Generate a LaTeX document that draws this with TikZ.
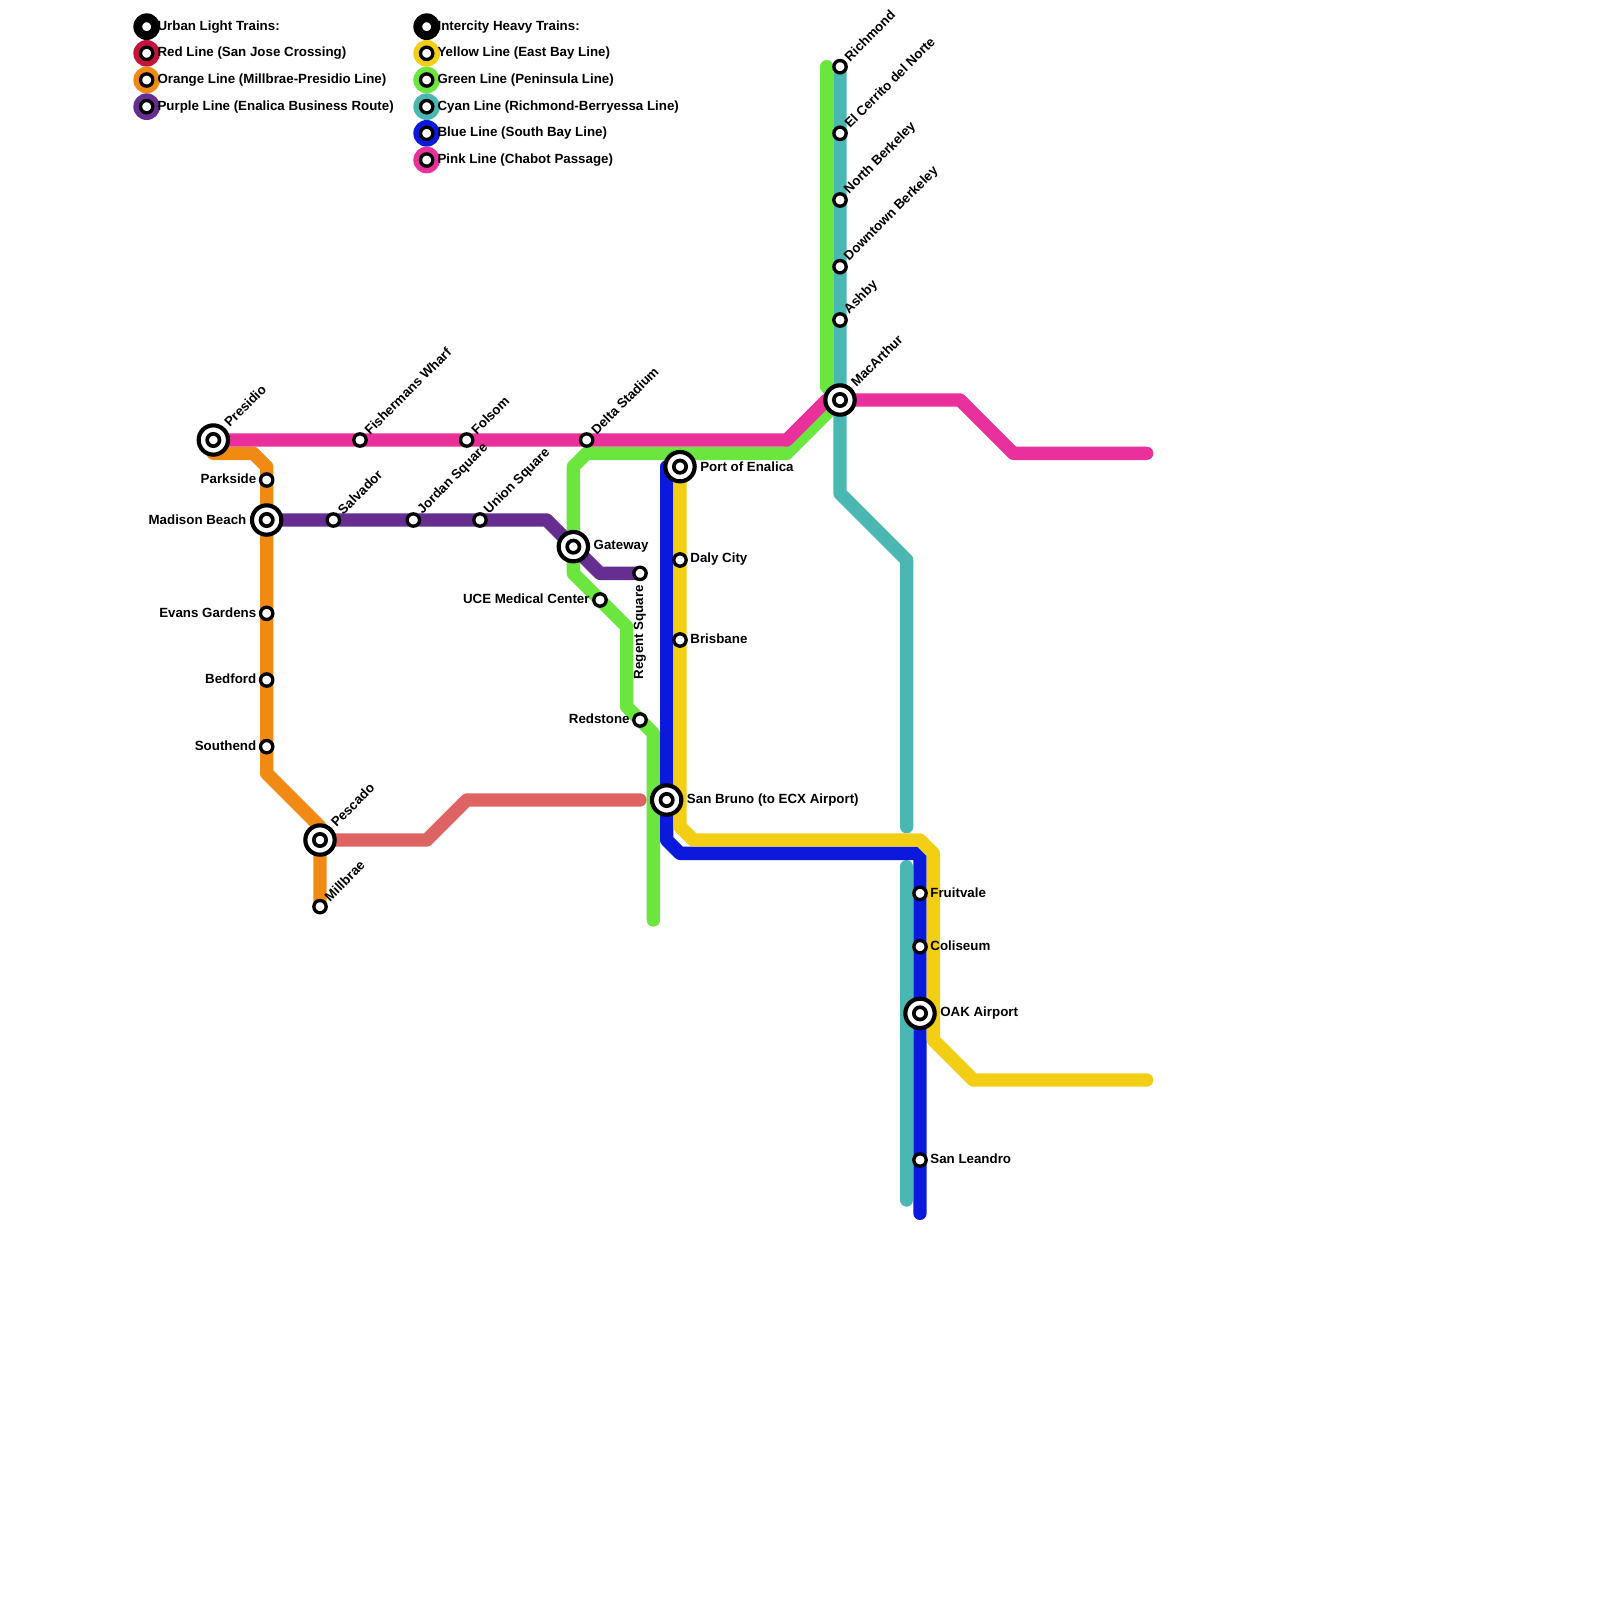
\documentclass[tikz,border=0pt]{standalone}
\usepackage{fontspec}
\setmainfont{Liberation Sans}
\definecolor{pinkline}{HTML}{E9309B}
\definecolor{greenline}{HTML}{6AE63F}
\definecolor{orangeline}{HTML}{F08A13}
\definecolor{purpleline}{HTML}{662E91}
\definecolor{yellowline}{HTML}{F2CE14}
\definecolor{cyanline}{HTML}{4BB7B3}
\definecolor{blueline}{HTML}{0A19DC}
\definecolor{salmonline}{HTML}{DE6464}
\definecolor{redline}{HTML}{C4143C}
\pgfdeclarelayer{lines}
\pgfsetlayers{lines,main}
\tikzset{
  metro/.style={line width=0.4cm,line cap=round,line join=round},
  stn/.style={circle,draw=black,fill=white,line width=0.1cm,minimum size=0.37cm,inner sep=0pt},
  hub/.style={circle,draw=black,fill=white,line width=0.125cm,minimum size=0.88cm,inner sep=0pt},
  hubin/.style={circle,draw=black,fill=white,line width=0.11cm,minimum size=0.37cm,inner sep=0pt},
  legdisc/.style={circle,minimum size=0.8cm,inner sep=0pt},
  lbtext/.style={font=\bfseries\fontsize{11.37}{13}\selectfont,inner sep=0pt,text=black},
  lbne/.style={lbtext,rotate=45,anchor=west,label distance=0pt,xshift=0.07cm,yshift=0.025cm},
  lbup/.style={lbtext,rotate=90,anchor=east,label distance=0pt,xshift=-0.11cm},
  txtne/.style={label={[lbne]45:#1}},
  txtup/.style={label={[lbup]-90:#1}},
  txtl/.style={label={[lbtext,label distance=0.07cm,yshift=0.03cm]180:#1}},
  txtr/.style={label={[lbtext,label distance=0.07cm,yshift=0.03cm]0:#1}},
  hubl/.style={label={[lbtext,label distance=0.10cm]180:#1}},
  hubr/.style={label={[lbtext,label distance=0.10cm]0:#1}},
  hubne/.style={label={[lbne,xshift=0.03cm,yshift=0.025cm]45:#1}}
}
\begin{document}
\begin{tikzpicture}[x=0.4cm,y=-0.4cm]
\useasboundingbox (0,0) rectangle (120,120);
\node[hub,hubne=Presidio] (presidio) at (16,33) {};
\node[hub,hubl=Madison Beach] (madison) at (20,39) {};
\node[hub,hubne=Pescado] (pescado) at (24,63) {};
\node[hub,hubr=Gateway] (gateway) at (43,41) {};
\node[hub,hubr=Port of Enalica] (enalica) at (51,35) {};
\node[hub,hubr=San Bruno (to ECX Airport)] (sanbruno) at (50,60) {};
\node[hub,hubne=MacArthur] (macarthur) at (63,30) {};
\node[hub,hubr=OAK Airport] (oak) at (69,76) {};
\foreach \n in {presidio,madison,pescado,gateway,enalica,sanbruno,macarthur,oak}
  \node[hubin] (\n-in) at (\n) {};
\node[stn,txtl=Parkside] (parkside) at (20,36) {};
\node[stn,txtl=Evans Gardens] (evans) at (20,46) {};
\node[stn,txtl=Bedford] (bedford) at (20,51) {};
\node[stn,txtl=Southend] (southend) at (20,56) {};
\node[stn,txtne=Millbrae] (millbrae) at (24,68) {};
\node[stn,txtne=Salvador] (salvador) at (25,39) {};
\node[stn,txtne=Fishermans Wharf] (fishermans) at (27,33) {};
\node[stn,txtne=Jordan Square] (jordan) at (31,39) {};
\node[stn,txtne=Folsom] (folsom) at (35,33) {};
\node[stn,txtne=Union Square] (union) at (36,39) {};
\node[stn,txtne=Delta Stadium] (delta) at (44,33) {};
\node[stn,txtup=Regent Square] (regent) at (48,43) {};
\node[stn,txtl=UCE Medical Center] (uce) at (45,45) {};
\node[stn,txtl=Redstone] (redstone) at (48,54) {};
\node[stn,txtr=Daly City] (daly) at (51,42) {};
\node[stn,txtr=Brisbane] (brisbane) at (51,48) {};
\node[stn,txtne=Richmond] (richmond) at (63,5) {};
\node[stn,txtne=El Cerrito del Norte] (cerrito) at (63,10) {};
\node[stn,txtne=North Berkeley] (northb) at (63,15) {};
\node[stn,txtne=Downtown Berkeley] (downtown) at (63,20) {};
\node[stn,txtne=Ashby] (ashby) at (63,24) {};
\node[stn,txtr=Fruitvale] (fruitvale) at (69,67) {};
\node[stn,txtr=Coliseum] (coliseum) at (69,71) {};
\node[stn,txtr=San Leandro] (leandro) at (69,87) {};
\foreach \n/\x/\y in {pinkA/59/33,pinkB/62/30,pinkC/72/30,pinkD/76/34,pinkE/86/34,
  greenA/62/5,greenB/62/29,greenC/59/34,greenD/44/34,greenE/43/35,greenF/43/43,greenG/47/47,greenH/47/53,greenI/49/55,greenJ/49/69,
  orangeA/16/34,orangeB/19/34,orangeC/20/35,orangeD/20/58,orangeE/24/62,
  purpleA/41/39,purpleB/45/43,
  salmonA/32/63,salmonB/35/60,salmonC/48/60,
  blueA/50/35,blueB/50/63,blueC/51/64,blueD/69/64,blueE/69/91,
  yellowA/51/62,yellowB/52/63,yellowC/69/63,yellowD/70/64,yellowE/70/78,yellowF/73/81,yellowG/86/81,
  cyanA/63/37,cyanB/68/42,cyanC/68/62,cyanD/68/65,cyanE/68/90}
  \coordinate (\n) at (\x,\y);
\begin{pgfonlayer}{lines}
\draw[metro,salmonline] (pescado.center)--(salmonA)--(salmonB)--(salmonC);
\draw[metro,orangeline] (orangeA)--(orangeB)--(orangeC)--(orangeD)--(orangeE)--(millbrae.center);
\draw[metro,greenline] (greenA)--(greenB)--(macarthur.center)--(greenC)--(greenD)--(greenE)--(greenF)--(greenG)--(greenH)--(greenI)--(greenJ);
\draw[metro,purpleline] (madison.center)--(purpleA)--(purpleB)--(regent.center);
\draw[metro,pinkline] (presidio.center)--(pinkA)--(pinkB)--(macarthur.center)--(pinkC)--(pinkD)--(pinkE);
\draw[metro,cyanline] (richmond.center)--(cyanA)--(cyanB)--(cyanC);
\draw[metro,cyanline] (cyanD)--(cyanE);
\draw[metro,blueline] (blueA)--(blueB)--(blueC)--(blueD)--(blueE);
\draw[metro,yellowline] (enalica.center)--(yellowA)--(yellowB)--(yellowC)--(yellowD)--(yellowE)--(yellowF)--(yellowG);
\end{pgfonlayer}
\foreach \n/\x/\y/\c/\t in {
  urban/11/2/black/Urban Light Trains:,
  red/11/4/redline/Red Line (San Jose Crossing),
  orange/11/6/orangeline/Orange Line (Millbrae-Presidio Line),
  purple/11/8/purpleline/Purple Line (Enalica Business Route),
  intercity/32/2/black/Intercity Heavy Trains:,
  yellow/32/4/yellowline/Yellow Line (East Bay Line),
  green/32/6/greenline/Green Line (Peninsula Line),
  cyan/32/8/cyanline/Cyan Line (Richmond-Berryessa Line),
  blue/32/10/blueline/Blue Line (South Bay Line),
  pink/32/12/pinkline/Pink Line (Chabot Passage)}{
  \node[legdisc,fill=\c] (\n-disc) at (\x,\y) {};
  \node[stn] (\n-stn) at (\n-disc) {};
  \node[lbtext,anchor=west] (\n-text) at ({\x+0.8},\y) {\t};
}
\end{tikzpicture}
\end{document}
